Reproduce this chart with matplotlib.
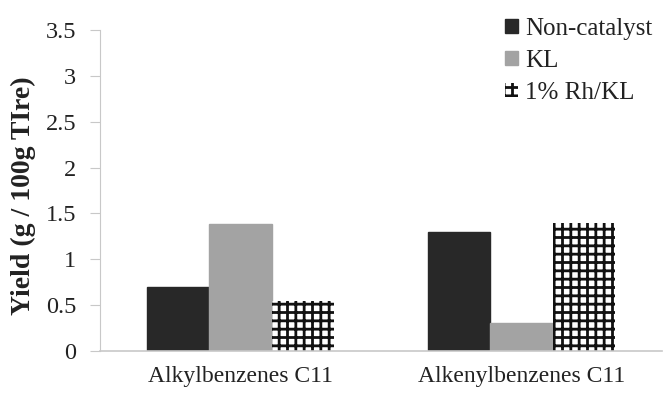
import matplotlib
matplotlib.use("Agg")
import matplotlib.pyplot as plt
import numpy as np
from matplotlib.patches import Patch

categories = ["Alkylbenzenes C11", "Alkenylbenzenes C11"]
series_names = ["Non-catalyst", "KL", "1% Rh/KL"]
non_catalyst = [0.70, 1.30]
kl = [1.39, 0.30]
rh_kl = [0.55, 1.40]
y_ticks = [0, 0.5, 1, 1.5, 2, 2.5, 3, 3.5]
y_tick_labels = ["0", "0.5", "1", "1.5", "2", "2.5", "3", "3.5"]

plt.rcParams["font.family"] = ["Liberation Serif", "DejaVu Serif"]
plt.rcParams["hatch.linewidth"] = 2.0

fig = plt.figure(figsize=(6.64, 3.95), dpi=100)
ax = fig.add_axes([100 / 664, 1 - 351 / 395, 562 / 664, 321 / 395])

x = np.arange(len(categories))
w = 0.222
styles = [
    dict(color="#282828", edgecolor="#282828"),
    dict(color="#a3a3a3", edgecolor="#a3a3a3"),
    dict(facecolor="white", edgecolor="#111111", hatch="++", linewidth=0),
]
for i, (vals, st) in enumerate(zip([non_catalyst, kl, rh_kl], styles)):
    ax.bar(x + (i - 1) * w, vals, width=w, **st, zorder=2)

ax.set_xlim(-0.5, 1.5)
ax.set_ylim(0, 3.5)
ax.set_yticks(y_ticks)
ax.set_yticklabels(y_tick_labels, fontsize=17.5, color="#222222")
ax.set_xticks(x)
ax.set_xticklabels(categories, fontsize=17, color="#222222")
ax.tick_params(axis="x", length=0, pad=11)
ax.tick_params(axis="y", length=7, width=0.8, color="#c8c8c8", pad=10)

for s in ["top", "right"]:
    ax.spines[s].set_visible(False)
ax.spines["left"].set_color("#c8c8c8")
ax.spines["bottom"].set_color("#c8c8c8")
ax.spines["left"].set_linewidth(0.8)
ax.spines["bottom"].set_linewidth(1.2)

ax.set_ylabel("Yield (g / 100g TIre)", fontsize=20, fontweight="bold", color="#222222")
ax.yaxis.set_label_coords(36 / 664, 1 - 196 / 395, transform=fig.transFigure)

handles = [
    Patch(facecolor="#282828", edgecolor="#282828"),
    Patch(facecolor="#a3a3a3", edgecolor="#a3a3a3"),
    Patch(facecolor="white", edgecolor="#111111", hatch="++", linewidth=0),
]
ax.legend(handles, series_names, loc="upper left", bbox_to_anchor=(505 / 664, 1 - 18 / 395),
          bbox_transform=fig.transFigure, frameon=False, fontsize=18,
          handlelength=0.5, handleheight=0.5, handletextpad=0.3, labelspacing=0.4,
          borderaxespad=0, borderpad=0)
for t in ax.get_legend().get_texts():
    t.set_color("#222222")

fig.savefig("out.png", dpi=100)
